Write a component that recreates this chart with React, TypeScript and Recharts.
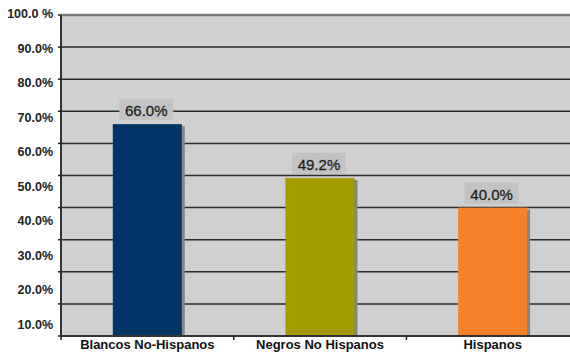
import React from "react";
import {
  BarChart,
  Bar,
  XAxis,
  YAxis,
  CartesianGrid,
  LabelList,
  ReferenceLine,
} from "recharts";

const groups = ["Blancos No-Hispanos", "Negros No Hispanos", "Hispanos"];
const shares = [66.0, 49.2, 40.0];
const barColors = ["#003366", "#a39b00", "#f5812a"];
const yTicks = [0, 10, 20, 30, 40, 50, 60, 70, 80, 90, 100];

const data = groups.map((name, i) => ({ name, value: shares[i], color: barColors[i] }));

const fmtY = (v: number) => (v === 100 ? "100.0 %" : `${v.toFixed(1)}%`);

// bar with a flat gray drop shadow on the right
function ShadowBar(props: any) {
  const { x, y, width, height, payload } = props;
  if (!height || height <= 0) return null;
  return (
    <g>
      <rect x={x + 3} y={y + 2} width={width} height={height - 2} fill="#858585" />
      <rect x={x} y={y} width={width} height={height} fill={payload.color} />
    </g>
  );
}

function YTick(props: any) {
  const { x, y, payload } = props;
  const v = payload.value as number;
  return (
    <g>
      <line x1={x - 3} x2={x} y1={y} y2={y} stroke="#222" strokeWidth={1.5} />
      {v > 0 && (
        <text
          x={x - 8}
          y={y + (100 - v) * 0.24 - 1}
          textAnchor="end"
          dominantBaseline="central"
          fontSize={12.5}
          fontWeight="bold"
          fill="#222"
        >
          {fmtY(v)}
        </text>
      )}
    </g>
  );
}

function XTick(props: any) {
  const { x, y, payload } = props;
  const half = 86.25;
  return (
    <g>
      <line x1={x - half} x2={x - half} y1={y} y2={y + 4} stroke="#222" strokeWidth={1.5} />
      <text x={x} y={y + 13} textAnchor="middle" fontSize={13} fontWeight="bold" fill="#111">
        {payload.value}
      </text>
    </g>
  );
}

function ValueBox(props: any) {
  const { x, y, width, value } = props;
  const cx = x + width / 2 - 1;
  const bw = 54;
  const bh = 21;
  const top = y - 4 - bh;
  return (
    <g>
      <rect x={cx - bw / 2} y={top} width={bw} height={bh} fill="#c3c3c3" />
      <text
        x={cx}
        y={top + bh / 2 + 1}
        textAnchor="middle"
        dominantBaseline="central"
        fontSize={15}
        fill="#1e1e1e"
        stroke="#1e1e1e"
        strokeWidth={0.3}
      >
        {`${Number(value).toFixed(1)}%`}
      </text>
    </g>
  );
}

export default function App() {
  return (
    <div
      style={{
        position: "absolute",
        left: 0,
        top: 0,
        width: 570,
        height: 354,
        overflow: "hidden",
        background: "#fff",
        fontFamily: "'Liberation Sans', Arial, sans-serif",
      }}
    >
      <BarChart
        width={579}
        height={354}
        data={data}
        margin={{ top: 15, right: 0, bottom: 0, left: 0 }}
        barCategoryGap="30%"
      >
        <CartesianGrid
          vertical={false}
          fill="#d0d0d0"
          fillOpacity={1}
          stroke="#2a2a2a"
          strokeWidth={1.5}
        />
        <ReferenceLine y={100} stroke="#777" strokeWidth={2.5} />
        <XAxis
          dataKey="name"
          height={18}
          tickSize={0}
          tickMargin={0}
          axisLine={{ stroke: "#333", strokeWidth: 2 }}
          tick={<XTick />}
          interval={0}
        />
        <YAxis
          width={61}
          domain={[0, 100]}
          ticks={yTicks}
          tickSize={0}
          tickMargin={0}
          axisLine={{ stroke: "#333", strokeWidth: 2 }}
          tick={<YTick />}
          interval={0}
        />
        <Bar dataKey="value" shape={<ShadowBar />} isAnimationActive={false}>
          <LabelList dataKey="value" content={<ValueBox />} />
        </Bar>
      </BarChart>
    </div>
  );
}
